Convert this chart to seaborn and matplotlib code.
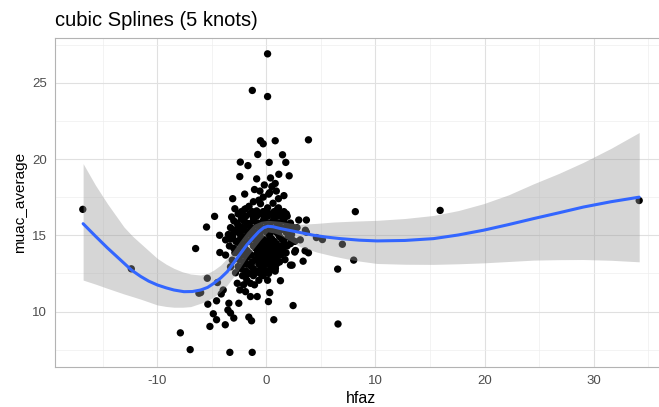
import numpy as np
import pandas as pd
import matplotlib
matplotlib.use("Agg")
import matplotlib.pyplot as plt
from matplotlib.ticker import MultipleLocator
import seaborn as sns

# ---------------- data ----------------
title = "cubic Splines (5 knots)"
x_label = "hfaz"
y_label = "muac_average"

# sparse / outlying observations
hfaz_sparse = [-16.85, -12.4, -6.5, -7.9, -7.0, -6.2, 0.1, -1.3, 0.1, -0.55, -0.3, 0.8, 3.85,
               -0.8, 1.47, -2.4, -1.7, 0.25, 1.77, -2.45, -0.9, 0.37, 1.13, 2.08, 0.49, -0.6,
               0.2, 0.9, 1.1, -3.1, -0.55, -2.9, -1.9, -0.85, 0.05, 1.83, -4.76, -3.2, -2.1,
               -5.5, -4.3, -3.75, -3.0, -2.4, -1.6, -0.85, 2.96, 3.66, 2.8, 3.57, 8.15, 3.66,
               4.58, 5.13, 6.96, 3.54, 3.85, 3.36, 8.0, 6.53, 6.56, 15.93, 34.19, 3.1,
               -4.28, -3.75, -5.43, -4.5, -6.04, -3.97, -4.15, -4.58, -5.38, -2.84, -2.68,
               -2.45, -1.92, -1.47, -0.85, -2.54, -3.45, -3.54, -3.3, -4.88, -4.58, -5.19,
               -3.78, -3.0, -1.62, -1.37, 0.18, 0.3, 0.67, 1.28, 2.44, -3.36, -1.31, 0.37,
               2.2, 2.59, 1.13, 0.82, -1.47, -1.16, -1.92, -0.55, -2.08, -3.3, -3.14, -1.77,
               -0.85, 0.06, 0.67, 1.28, 2.66, 2.35,
               -0.2, 0.8, -1.1, 1.6, -2.0]
muac_sparse = [16.7, 12.8, 14.13, 8.6, 7.5, 11.2, 26.9, 24.5, 24.1, 21.2, 21.0, 21.2, 21.26,
               20.3, 20.28, 19.8, 19.57, 19.78, 19.78, 18.85, 18.7, 18.76, 19.0, 18.9, 18.2, 17.9,
               17.7, 17.9, 17.4, 17.4, 17.07, 16.74, 16.74, 16.5, 16.5, 16.4, 16.24, 16.2, 16.1,
               15.54, 15.0, 14.7, 15.2, 15.54, 15.76, 15.65, 16.0, 16.0, 15.5, 15.33, 16.55, 15.2,
               14.85, 14.72, 14.41, 13.98, 13.85, 13.3, 13.37, 12.78, 9.18, 16.63, 17.28, 14.7,
               13.87, 13.7, 12.18, 11.9, 11.24, 11.41, 11.15, 10.7, 10.48, 12.54, 11.85,
               11.41, 11.3, 10.98, 10.98, 10.54, 10.54, 10.1, 9.9, 9.85, 9.46, 9.02,
               9.13, 9.57, 9.63, 9.39, 10.65, 11.24, 9.46, 12.02, 10.39, 7.32, 7.32, 12.72,
               13.04, 13.9, 13.26, 12.83, 11.85, 12.5, 12.28, 13.26, 13.15, 12.93, 13.37, 13.58,
               13.8, 14.02, 13.37, 14.24, 14.0, 13.04,
               18.3, 18.4, 18.0, 17.6, 17.7]

# dense core of the cloud
hfaz_core = [-1.2, -0.3, 0.6,
             -2.0, -0.9, 0.1, 1.0,
             -2.6, -1.5, -0.5, 0.4, 1.3,
             -2.3, -1.2, -0.2, 0.7, 1.5,
             -2.7, -1.8, -0.8, 0.2, 1.1, 2.2,
             -3.3, -2.2, -1.4, -0.4, 0.5, 1.4, 2.5,
             -2.6, -1.7, -1.0, 0.0, 0.9, 1.8,
             -3.1, -2.0, -1.3, -0.6, 0.3, 1.2, 2.0,
             -2.8, -1.6, -0.9, -0.1, 0.7, 1.6, 2.6,
             -3.4, -2.3, -1.2, -0.4, 0.4, 1.1, 1.9,
             -2.6, -1.8, -0.8, 0.1, 0.9, 1.5,
             -2.2, -1.4, -0.2, 0.6, 1.3,
             -2.5, -1.0, -0.4, 0.3, 1.7,
             -1.8, -0.7, 0.0, 0.9,
             -2.3, -1.2, -0.3, 0.5,
             -1.6, -0.6, 0.2,
             -1.6, -0.7, 0.3, 1.1,
             -2.3, -1.3, -0.3, 0.7, 1.6,
             -1.9, -0.9, 0.1, 1.0, 1.9,
             -3.0, -2.1, -1.2, -0.3, 0.6, 1.6,
             -2.6, -1.8, -0.8, 0.1, 1.0, 1.9,
             -3.0, -2.1, -1.3, -0.5, 0.4, 1.3, 2.2,
             -3.5, -2.4, -1.5, -0.6, 0.3, 1.1, 2.3,
             -3.3, -2.4, -1.1, -0.3, 0.5, 1.4, 2.3,
             -2.5, -2.0, -0.6, 0.2, 0.9, 1.6, 2.2,
             -3.0, -2.0, -1.0, -0.2, 0.6, 1.3,
             -2.9, -1.6, -0.5, 0.4, 1.1, 1.8,
             -1.8, -0.8, 0.1, 0.9,
             -2.0, -1.3, -0.2, 0.6, 1.2,
             -2.6, -1.4, -0.5, 0.4,
             -1.9, -0.9, 0.0, 0.8,
             -2.2, -1.2, -0.3,
             -1.8, -0.7, 0.1,
             -2.1, -1.1]
muac_core = [17.2, 17.5, 17.1,
             16.7, 16.6, 16.8, 16.7,
             16.4, 16.4, 16.4, 16.4, 16.4,
             16.1, 16.1, 16.1, 16.1, 16.1,
             15.8, 15.8, 15.8, 15.8, 15.8, 15.8,
             15.5, 15.5, 15.5, 15.5, 15.5, 15.5, 15.5,
             15.2, 15.2, 15.2, 15.2, 15.2, 15.2,
             14.9, 14.9, 14.9, 14.9, 14.9, 14.9, 14.9,
             14.6, 14.6, 14.6, 14.6, 14.6, 14.6, 14.6,
             14.3, 14.3, 14.3, 14.3, 14.3, 14.3, 14.3,
             14.0, 14.0, 14.0, 14.0, 14.0, 14.0,
             13.7, 13.7, 13.7, 13.7, 13.7,
             13.4, 13.4, 13.4, 13.4, 13.4,
             13.1, 13.1, 13.1, 13.1,
             12.8, 12.8, 12.8, 12.8,
             12.5, 12.5, 12.5,
             16.9, 17.3, 17.8, 16.8,
             16.55, 16.55, 16.55, 16.55, 16.55,
             16.25, 16.25, 16.25, 16.25, 16.25,
             15.95, 15.95, 15.95, 15.95, 15.95, 15.95,
             15.65, 15.65, 15.65, 15.65, 15.65, 15.65,
             15.35, 15.35, 15.35, 15.35, 15.35, 15.35, 15.35,
             15.05, 15.05, 15.05, 15.05, 15.05, 15.05, 15.05,
             14.75, 14.75, 14.75, 14.75, 14.75, 14.75, 14.75,
             14.45, 14.45, 14.45, 14.45, 14.45, 14.45, 14.45,
             14.15, 14.15, 14.15, 14.15, 14.15, 14.15,
             13.85, 13.85, 13.85, 13.85, 13.85, 13.85,
             13.55, 13.55, 13.55, 13.55,
             13.25, 13.25, 13.25, 13.25, 13.25,
             12.95, 12.95, 12.95, 12.95,
             12.65, 12.65, 12.65, 12.65,
             12.35, 12.35, 12.35,
             12.05, 12.05, 12.05,
             11.75, 11.75]

# fitted spline and its confidence band
fit_x = [-16.82, -15.7, -14.59, -13.8, -13.07, -12.39, -11.54, -10.8, -10.01, -9.2, -8.49,
         -7.57, -6.8, -6.04, -5.4, -4.83, -4.2, -3.60, -3.0, -2.38, -1.8, -1.16, -0.7,
         -0.25, 0.12, 0.6, 1.28, 2.81, 4.33, 5.5, 6.78, 8.5, 10.14, 12.7, 15.32, 17.6,
         19.90, 22.2, 24.48, 26.8, 29.06, 31.6, 34.19]
fit_y = [15.76, 14.95, 14.17, 13.65, 13.17, 12.72, 12.30, 11.99, 11.74, 11.55, 11.41,
         11.30, 11.31, 11.41, 11.58, 11.85, 12.20, 12.61, 13.20, 13.81, 14.37, 14.89, 15.24,
         15.50, 15.59, 15.56, 15.44, 15.22, 15.00, 14.88, 14.78, 14.68, 14.63, 14.66, 14.78,
         15.02, 15.33, 15.70, 16.09, 16.47, 16.85, 17.20, 17.50]
band_x = [-16.82, -15.7, -14.59, -13.07, -12.3, -11.54, -10.01, -9.2, -8.49, -7.7, -6.96,
          -6.04, -5.4, -4.83, -4.2, -3.60, -3.0, -2.38, -1.8, -1.16, -0.5, 0.12, 0.7, 1.28,
          2.2, 3.11, 4.6, 6.16, 8.1, 10.14, 12.7, 15.32, 17.6, 19.90, 22.2, 24.48, 26.8,
          29.06, 31.6, 34.19]
band_hi = [19.70, 18.30, 17.07, 15.54, 14.95, 14.46, 13.48, 13.10, 12.83, 12.60, 12.46,
           12.39, 12.50, 12.72, 13.05, 13.50, 14.05, 14.67, 15.22, 15.72, 15.92, 15.98, 15.95,
           15.91, 15.80, 15.72, 15.78, 15.87, 15.93, 15.98, 16.10, 16.30, 16.62, 17.07, 17.65,
           18.37, 19.05, 19.78, 20.70, 21.74]
band_lo = [12.06, 11.80, 11.52, 11.15, 10.98, 10.81, 10.43, 10.33, 10.28, 10.28, 10.32,
           10.54, 10.72, 10.96, 11.30, 11.74, 12.30, 12.91, 13.55, 14.15, 14.75, 15.22, 15.15,
           15.00, 14.62, 14.24, 13.90, 13.63, 13.35, 13.15, 13.10, 13.09, 13.13, 13.19, 13.28,
           13.37, 13.40, 13.41, 13.36, 13.26]

x_ticks = [-10, 0, 10, 20, 30]
y_ticks = [10, 15, 20, 25]

# ---------------- figure ----------------
sns.set_theme(style="white")
plt.rcParams["font.family"] = ["Liberation Sans", "DejaVu Sans"]
plt.rcParams["axes.unicode_minus"] = False

pts = pd.DataFrame({"hfaz": hfaz_sparse + hfaz_core, "muac": muac_sparse + muac_core})
fit = pd.DataFrame({"x": fit_x, "y": fit_y})

fig = plt.figure(figsize=(6.59, 4.07), dpi=100)
ax = fig.add_axes([55 / 659, 1 - 367.3 / 407, 612 / 659, (367.3 - 38.3) / 407])

sns.scatterplot(data=pts, x="hfaz", y="muac", ax=ax, color="black", s=28,
                edgecolor="none", linewidth=0, zorder=3)
ax.fill_between(band_x, band_lo, band_hi, color="#999999", alpha=0.4, linewidth=0, zorder=4)
sns.lineplot(data=fit, x="x", y="y", ax=ax, color="#3366FF", linewidth=2.2, zorder=5,
             sort=False)

ax.set_xlim(-19.4, 36.74)
ax.set_ylim(6.34, 27.92)
ax.set_xticks(x_ticks)
ax.set_yticks(y_ticks)
ax.xaxis.set_minor_locator(MultipleLocator(5))
ax.yaxis.set_minor_locator(MultipleLocator(2.5))
ax.grid(True, which="major", color="#E0E0E0", linewidth=0.8, zorder=0)
ax.grid(True, which="minor", color="#EEEEEE", linewidth=0.5, zorder=0)
ax.set_axisbelow(True)
for s in ax.spines.values():
    s.set_color("#B3B3B3")
    s.set_linewidth(0.8)
ax.tick_params(axis="both", which="major", length=2.75, width=0.6, color="#B3B3B3",
               labelsize=9.5, labelcolor="#4D4D4D", pad=3)
ax.tick_params(axis="both", which="minor", length=0)

ax.set_xlabel(x_label, fontsize=11.5, color="black", labelpad=3)
ax.set_ylabel(y_label, fontsize=11, color="black", labelpad=4)
fig.text(55 / 659, 1 - 26 / 407, title, fontsize=14.5, color="black", ha="left", va="baseline")

fig.savefig("out.png", dpi=100)
